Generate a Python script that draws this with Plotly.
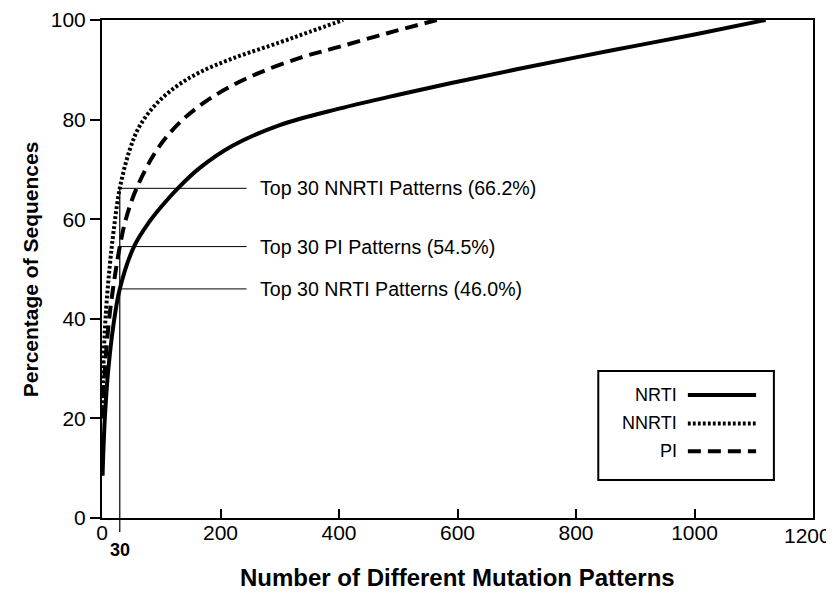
import plotly.graph_objects as go

# ---- data ----
nrti_x = [1, 2, 5, 10, 19, 30, 54, 80, 100, 128, 165, 221, 300, 400, 500, 600, 700, 800, 900, 1000, 1120]
nrti_y = [8.5, 12.5, 20.5, 29, 38.5, 46, 54.5, 59.5, 62.5, 66.2, 70.3, 74.8, 78.9, 82.2, 85.0, 87.6, 90.1, 92.5, 94.8, 97.1, 100]

nnrti_x = [1, 3, 7, 13, 20, 30, 47, 64, 92, 126, 165, 221, 300, 350, 407]
nnrti_y = [22, 33, 42, 50.5, 58, 66.2, 74, 78.8, 83.2, 86.7, 89.5, 92.3, 95.5, 97.6, 100]

pi_x = [1, 5, 10, 16, 30, 41, 58, 92, 131, 182, 250, 334, 400, 480, 565]
pi_y = [20, 30, 37.5, 43.8, 54.5, 60.3, 66.1, 73.8, 79.4, 84.2, 88.6, 92.4, 94.6, 97.3, 100]

series_names = ["NRTI", "NNRTI", "PI"]
top_n = 30
top_labels = ["Top 30 NNRTI Patterns (66.2%)", "Top 30 PI Patterns (54.5%)", "Top 30 NRTI Patterns (46.0%)"]
top_values = [66.2, 54.5, 46.0]
x_ticks = [0, 200, 400, 600, 800, 1000, 1200]
x_tick_labels = ["0", "200", "400", "600", "800", "1000", "1200"]
y_ticks = [0, 20, 40, 60, 80, 100]

FONT = "Liberation Sans, Arial, Helvetica, sans-serif"
DOT = "2.8px,2.2px"
DASH = "13px,7px"
LW = 4

fig = go.Figure()
styles = {"NRTI": "solid", "NNRTI": DOT, "PI": DASH}
data = {"NRTI": (nrti_x, nrti_y), "NNRTI": (nnrti_x, nnrti_y), "PI": (pi_x, pi_y)}
for name in series_names:
    xs, ys = data[name]
    fig.add_trace(go.Scatter(x=xs, y=ys, mode="lines", name=name,
                             line=dict(color="black", width=LW, dash=styles[name],
                                       shape="spline", smoothing=1.0),
                             showlegend=False))

shapes = []
annotations = []
# vertical marker at top_n
shapes.append(dict(type="line", xref="x", yref="paper", x0=top_n, x1=top_n,
                   y0=-0.028, y1=max(top_values) / 100.0,
                   line=dict(color="black", width=1.2)))
# horizontal annotation lines + labels
for lab, v in zip(top_labels, top_values):
    shapes.append(dict(type="line", xref="x", yref="y", x0=top_n, x1=244, y0=v, y1=v,
                       line=dict(color="black", width=1)))
    annotations.append(dict(x=263, y=v, xref="x", yref="y", text=lab, showarrow=False,
                            xanchor="left", yanchor="middle",
                            font=dict(family=FONT, size=19.6, color="black")))

# "30" label under the axis
annotations.append(dict(x=top_n, y=-0.064, xref="x", yref="paper", text="<b>30</b>",
                        showarrow=False, xanchor="center", yanchor="middle",
                        font=dict(family=FONT, size=18, color="black")))

# last x tick label sits at the right edge of the page: place it so it is not hidden
annotations.append(dict(x=1.0285, y=-0.036, xref="paper", yref="paper", text=x_tick_labels[-1],
                        showarrow=False, xanchor="right", yanchor="middle",
                        font=dict(family=FONT, size=21, color="black")))

# axis titles
annotations.append(dict(x=0.5, y=-0.12, xref="paper", yref="paper",
                        text="<b>Number of Different Mutation Patterns</b>", showarrow=False,
                        xanchor="center", yanchor="middle",
                        font=dict(family=FONT, size=24, color="black")))
annotations.append(dict(x=-0.101, y=0.5, xref="paper", yref="paper",
                        text="<b>Percentage of Sequences</b>", showarrow=False, textangle=-90,
                        xanchor="center", yanchor="middle",
                        font=dict(family=FONT, size=21, color="black")))

# manual legend
shapes.append(dict(type="rect", xref="paper", yref="paper", x0=0.698, x1=0.945,
                   y0=0.0763, y1=0.295, line=dict(color="black", width=2),
                   fillcolor="white"))
legend_rows = [0.247, 0.190, 0.134]
for name, ry in zip(series_names, legend_rows):
    shapes.append(dict(type="line", xref="paper", yref="paper", x0=0.824, x1=0.920,
                       y0=ry, y1=ry, line=dict(color="black", width=LW, dash=styles[name])))
    annotations.append(dict(x=0.8115, y=ry, xref="paper", yref="paper", text=name,
                            showarrow=False, xanchor="right", yanchor="middle",
                            font=dict(family=FONT, size=18, color="black")))

# page body has an 8px default margin: size the figure so it fits the window
fig.update_layout(
    width=826, height=584,
    margin=dict(l=94, r=21, t=12, b=74, autoexpand=False),
    paper_bgcolor="white", plot_bgcolor="white",
    showlegend=False,
    shapes=shapes, annotations=annotations,
    font=dict(family=FONT, color="black"),
    xaxis=dict(range=[0, 1200], tickvals=x_ticks,
               ticktext=x_tick_labels[:-1] + [""],
               ticks="inside", ticklen=9, tickwidth=1.5,
               tickcolor="black", showline=True, linecolor="black", linewidth=2, mirror=True,
               showgrid=False, zeroline=False, tickfont=dict(family=FONT, size=21),
               ticklabelstandoff=-5, automargin=False),
    yaxis=dict(range=[0, 100], tickvals=y_ticks, ticks="outside", ticklen=10, tickwidth=1.5,
               tickcolor="black", showline=True, linecolor="black", linewidth=2, mirror=True,
               showgrid=False, zeroline=False, tickfont=dict(family=FONT, size=21),
               automargin=False),
)

fig.write_html("out.html")
